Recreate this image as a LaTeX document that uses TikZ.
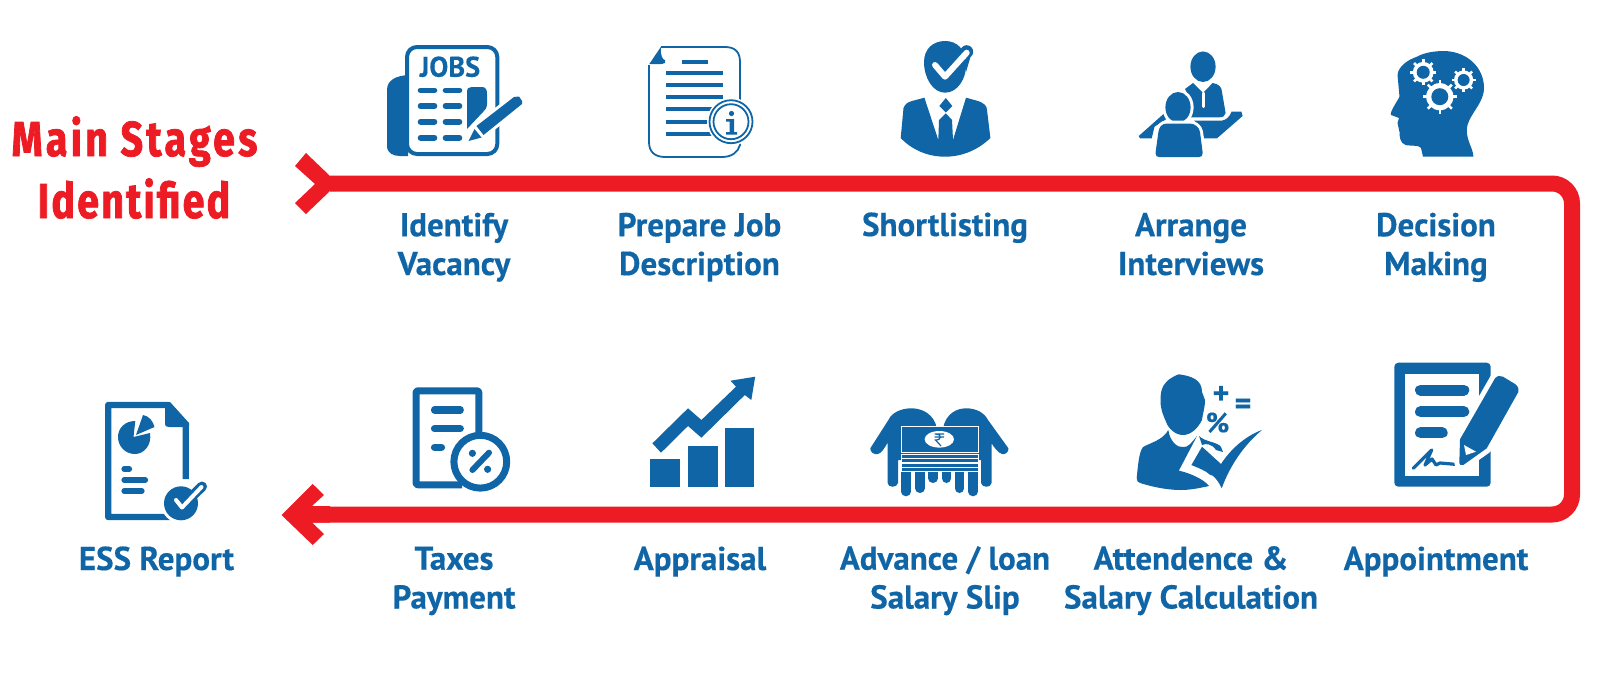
\documentclass[tikz,border=0pt]{standalone}
\usepackage{fontspec}
\setmainfont{PT Sans}[BoldFeatures={FakeBold=0.35}]
\newfontfamily\stagesfont[FakeStretch=0.8,LetterSpace=7,BoldFeatures={FakeBold=1.6}]{Fira Sans}
\usepackage{xcolor}
\definecolor{essblue}{RGB}{15,101,165}
\definecolor{essred}{RGB}{237,28,36}
\tikzset{
  stagelabel/.style={anchor=base,inner sep=0pt,align=center,text=essblue,font=\fontsize{16.5pt}{19.4pt}\selectfont\bfseries},
  titlelabel/.style={anchor=base,inner sep=0pt,text=essred,font=\fontsize{24.5pt}{30pt}\stagesfont\bfseries},
  iconfill/.style={fill=essblue,draw=none},
  iconline/.style={draw=essblue,line cap=round},
  halofill/.style={preaction={draw=white,line width=#1,line join=round},fill=essblue},
  flowline/.style={draw=essred,line width=8pt,rounded corners=10pt}
}
\newcommand{\gearicon}[3]{
\fill[white] (#1,#2) circle ({#3*0.8});
\foreach \a in {0,45,...,315} \draw[white,line width=1.3pt] ([shift={(#1,#2)}]\a:{#3*0.6}) -- ([shift={(#1,#2)}]\a:{#3});
\fill[essblue] (#1,#2) circle ({#3*0.5});
}
\begin{document}
\begin{tikzpicture}[x=0.5pt,y=-0.5pt]
\useasboundingbox (0,0) rectangle (1600,675);

% red flow line
\coordinate (flowstart) at (330,183.5);
\coordinate (flowright) at (1572,183.5);
\coordinate (flowend) at (312,514.5);
\draw[flowline] (flowstart) -- (flowright) |- (flowend);
\fill[essred] (295,166) -- (306,153) -- (330,176) -- (336,176) -- (336,191) -- (330,191) -- (306,214) -- (295,203) -- (315,184) -- cycle;
\fill[essred] (flowend) ++(-30.5,0.5) -- (312.7,484) -- (324,495) -- (312,506) -- (330,506) -- (330,522.5) -- (312,522.5) -- (324,534) -- (312.7,545) -- cycle;

% title
\node[titlelabel] (mainstages) at (134.5,156) {Main Stages};
\node[titlelabel] (identified) at (134,218) {\addfontfeature{LetterSpace=4.7}Identified};

% jobs icon
\fill[iconfill] (408,75) .. controls (396,76) and (387,80) .. (387,90) -- (387,146) .. controls (387,153) and (393,156) .. (400,156) -- (408,156) -- cycle;
\draw[draw=essblue,line width=2pt,fill=white,rounded corners=5pt] (407,47) rectangle (497.3,154);
\node[inner sep=0pt,anchor=base,text=essblue,font=\fontsize{14.2pt}{15pt}\selectfont\bfseries] (jobs) at (450,76.7) {JOBS};
\foreach \y in {90.3,106,121.7,137.7} {
  \draw[iconline,line width=2.8pt] (420.5,\y) -- (434.5,\y);
  \draw[iconline,line width=2.8pt] (445.5,\y) -- (459.5,\y);
}
\fill[iconfill] (467,92) .. controls (467,88) and (469,87) .. (472,87) -- (482,87) .. controls (486,87) and (487,90) .. (487,94) -- (487,104) .. controls (487,108) and (485,110) .. (483,112) -- (467,129) -- cycle;
\path[halofill=3pt] (514,97) -- (519,96.5) -- (522,101) -- (522,104) -- (483.5,135) -- (476.5,126) -- cycle;
\fill[iconfill] (474.5,129) -- (481.5,137.5) -- (468.5,141) -- cycle;

% job description icon
\draw[draw=essblue,line width=0.9pt] (661,47) -- (725,47) .. controls (735,47) and (740,52) .. (740,62) -- (740,145) .. controls (738,152) and (732,157) .. (722,157) -- (665,157) .. controls (655,157) and (649,152) .. (649,142) -- (649,65);
\fill[iconfill] (649.3,64) -- (661,46.7) .. controls (660,56) and (663,60) .. (665,60) .. controls (666,63) and (664,64) .. (661.7,64) -- cycle;
\draw[draw=essblue,line width=1.7pt] (682,62) -- (708,62);
\foreach \y in {73,85,97,109,122,134} \draw[draw=essblue,line width=1.7pt] (666,\y) -- (723.3,\y);
\fill[white] (731,121.7) circle (24);
\draw[draw=essblue,line width=0.9pt] (731,121.7) circle (21.5);
\draw[draw=essblue,line width=0.9pt] (731,121.7) circle (17.5);
\fill[iconfill] (731.5,113.5) circle (2.6);
\fill[iconfill] (726,119) -- (734,119) -- (734,132) -- (737,132) -- (737,134.5) -- (726,134.5) -- (726,132) -- (729.5,132) -- (729.5,121.5) -- (726,121.5) -- cycle;

% shortlisting icon
\fill[iconfill] (945,41) .. controls (957,41) and (966,49) .. (966,66) .. controls (966,78) and (958,92.7) .. (945,92.7) .. controls (933,92.7) and (924,78) .. (924,62) .. controls (924,49) and (933,41) .. (945,41) -- cycle;
\fill[iconfill] (966.7,51.7) circle (6.5);
\fill[iconfill] (964,60) -- (971,55) -- (966,72) -- cycle;
\draw[draw=white,line width=3pt,line cap=round,line join=round] (935,65) -- (945,76.7) -- (966.7,52.7);
\fill[iconfill] (900.7,138) -- (903.5,108) .. controls (905,104) and (908,102) .. (912,101) -- (924.4,97.7) -- (938.3,140) -- (939,120) -- (945.8,113.3) -- (952,120) -- (953,140) -- (966,97.7) -- (978,101) .. controls (984,103) and (987,106) .. (987,110) -- (990.4,138) .. controls (978,150) and (962,156.7) .. (945,156.7) .. controls (928,156.7) and (912,150) .. (900.7,138) -- cycle;
\fill[iconfill] (945.8,98) -- (952.3,106) -- (945.8,112.5) -- (939.3,106) -- cycle;

% interview icon
\fill[iconfill] (1203,66.7) ellipse (12.6 and 15.3);
\fill[iconfill] (1185,89) -- (1193,83) -- (1203,93) -- (1212.6,83) .. controls (1219,84) and (1221.7,87) .. (1222,92) -- (1225.6,113) .. controls (1225,116) and (1223,117.3) .. (1219.7,117.3) -- (1188,117.3) -- (1188,95) -- cycle;
\draw[draw=white,line width=1.5pt,line cap=round] (1203,93) -- (1203,106.7);
\fill[iconfill] (1164.3,113.3) -- (1138.7,136) -- (1140,138.3) -- (1151.7,138.3) -- (1154.5,126.7) -- (1166,119.3) -- cycle;
\fill[iconfill] (1231.5,111.7) -- (1241.4,111.7) -- (1242.6,116) -- (1217,138.3) -- (1204,138.3) -- (1200.7,126.7) -- (1194,120.7) -- (1221.7,120.7) .. controls (1226,120) and (1229.6,117) .. (1231.5,111.7) -- cycle;
\path[halofill=3pt] (1178,107.3) ellipse (12.6 and 15.3);
\path[halofill=3pt] (1155.5,153) -- (1158.4,132) .. controls (1159,127) and (1162,123.5) .. (1167,123.5) -- (1189,123.5) .. controls (1195,123.5) and (1199,127) .. (1200,132) -- (1202.7,153) .. controls (1203,156) and (1201,157) .. (1199,157) -- (1159,157) .. controls (1157,157) and (1155.5,156) .. (1155.5,153) -- cycle;

% decision making icon
\fill[iconfill] (1397.5,75) .. controls (1398,67) and (1407,60) .. (1417,56.7) .. controls (1425,52) and (1437,51) .. (1445,51) .. controls (1468,52) and (1484,68) .. (1484,88) .. controls (1484,104) and (1467,116) .. (1466.7,130) .. controls (1467,142) and (1473,148) .. (1473.4,156.7) -- (1423,156.7) -- (1421,148) .. controls (1420,145) and (1409,146) .. (1405.5,145) .. controls (1400,143) and (1399.5,137) .. (1399.5,132) -- (1397.5,123) -- (1399,118) -- (1391,115) .. controls (1389,113) and (1398,100) .. (1399.5,96.7) -- cycle;
\gearicon{1423.2}{72.3}{13}
\gearicon{1463.6}{80}{12}
\gearicon{1439.8}{96.7}{17}

% ess report icon
\draw[draw=essblue,line width=3.2pt,line join=round] (185.7,479) -- (185.7,425) -- (168,405) -- (108.2,405) -- (108.2,517) -- (170,517);
\fill[iconfill] (165,402) -- (170,402) -- (189,423) -- (189,427) -- (169,427) .. controls (166,427) and (165,426) .. (165,424) -- cycle;
\path[halofill=3pt] (181,503.3) circle (17);
\draw[draw=essblue,line width=5pt,line cap=round] (181,507) -- (202,486.5);
\draw[draw=white,line width=2pt,line cap=round,line join=round] (176,500) -- (182,507.5) -- (201.5,487);
\fill[iconfill] (136,435) -- (143,415) .. controls (149,416) and (153,421) .. (154.5,427) -- cycle;
\fill[iconfill] (135.3,421) -- (133.5,437) -- (150,433) .. controls (152,445) and (144,454) .. (135,454) .. controls (125,454) and (118,446) .. (118,437) .. controls (118,428) and (125,421) .. (135.3,421) -- cycle;
\draw[iconline,line width=2.6pt] (124,469) -- (129.5,469);
\draw[iconline,line width=2.6pt] (124,480) -- (145.5,480);
\draw[iconline,line width=2.6pt] (124,491) -- (142,491);

% taxes icon
\draw[draw=essblue,line width=3.5pt,line join=round,rounded corners=1pt] (478.9,435) -- (478.9,390.8) -- (416,390.8) -- (416,484.8) -- (462,484.8);
\draw[draw=essblue,line width=3.5pt,fill=white] (480.3,461.7) circle (26.4);
\foreach \y/\x in {410/463.8,428.7/463.8,447.3/445} \draw[iconline,line width=3.6pt] (434.5,\y) -- (\x-3.5,\y);
\draw[iconline,line width=3pt] (472.4,470) -- (489,452.7);
\fill[iconfill] (472.4,453.3) circle (3.6);
\fill[iconfill] (487.6,469.3) circle (3.6);

% appraisal icon
\fill[iconfill] (650.3,459.3) rectangle (679.7,487.3);
\fill[iconfill] (688,446) rectangle (717.5,487.3);
\fill[iconfill] (725.3,428.3) rectangle (754.3,487.3);
\fill[iconfill] (652.4,443.3) -- (688,408.3) -- (701.4,420) -- (736,386.7) -- (730.5,380.7) -- (755.2,376.7) -- (751.3,400) -- (744.8,395) -- (701.4,437.7) -- (688,426) -- (661,452.7) -- cycle;

% salary icon
\fill[iconfill] (870.3,448.3) -- (888.4,420) .. controls (892,412) and (902,408.3) .. (911.5,408.3) .. controls (922,408.3) and (934,414) .. (936.8,428) -- (943,428) .. controls (946,414) and (956,408.3) .. (966.3,408.3) .. controls (975,408.3) and (984,412) .. (988,420) -- (1008.4,448.3) .. controls (1009,452) and (1005,455) .. (1002,454) .. controls (998,453) and (994,447) .. (991.5,443.3) -- (991.5,483) .. controls (991,488) and (982,488) .. (981,483) -- (981,460) -- (898,460) -- (898,483) .. controls (897,488) and (888,488) .. (887.6,483) -- (887.6,442.7) .. controls (885,447) and (882,453) .. (878,454) .. controls (874,455) and (870,452) .. (870.3,448.3) -- cycle;
\foreach \x/\b in {906/494,920/490.7,933/480.7,946.5/480.7,959.5/490.7,973/494} {
  \draw[iconline,line width=4.6pt] (\x,472.7) -- (\x,\b-2.3);
}
\filldraw[essblue,draw=white,line width=0.5pt] (901,426.7) rectangle (978,452.7);
\foreach \y in {454,458.5,463,467.5} \filldraw[essblue,draw=white,line width=0.4pt] (901,\y) rectangle (978,\y+4.2);
\fill[white] (939.3,439.3) ellipse (14.7 and 8.3);
\draw[draw=essblue,line width=0.6pt] (934.5,434) -- (944,434) (934.5,437) -- (944,437) (936,434) .. controls (942,434) and (942,440) .. (935.5,440) -- (941,446);

% attendence icon
\fill[iconfill] (1178.8,374.3) .. controls (1192,376) and (1202,380) .. (1202,392) -- (1205,400) .. controls (1205,408) and (1203,412) .. (1202,420) .. controls (1198,428) and (1191,435) .. (1183,435) .. controls (1175,435) and (1168,428) .. (1166,421.7) .. controls (1163,415) and (1160,408) .. (1160.7,400) .. controls (1160,390) and (1163,380) .. (1178.8,374.3) -- cycle;
\fill[iconfill] (1168.3,430) .. controls (1170,442) and (1178,448) .. (1183,447) .. controls (1188,448) and (1192,442) .. (1197,436) -- (1178.8,470.7) .. controls (1186,472) and (1203,478) .. (1209,486) .. controls (1200,488) and (1190,490) .. (1181,490) .. controls (1165,490) and (1150,486) .. (1141,483.3) .. controls (1137,482) and (1136.7,480) .. (1136.7,478) .. controls (1138,465) and (1139,452) .. (1143,447) .. controls (1150,443) and (1163,440) .. (1168.3,430) -- cycle;
\fill[iconfill] (1199,436) .. controls (1205,442) and (1218,442) .. (1221,447) -- (1223,452) -- (1216,450) .. controls (1212,444) and (1206,443) .. (1202,445) -- cycle;
\fill[iconfill] (1202,446.7) -- (1221,464) .. controls (1230,450) and (1245,436) .. (1262,430) .. controls (1245,444) and (1230,465) .. (1221.7,488.3) .. controls (1218,480) and (1212,474) .. (1210.4,475) .. controls (1205,470) and (1198,468) .. (1191.4,465) -- cycle;
\node[inner sep=0pt,anchor=center,text=essblue,font=\fontsize{16pt}{16pt}\selectfont\bfseries] (plussign) at (1221,395) {+};
\node[inner sep=0pt,anchor=center,text=essblue,font=\fontsize{16pt}{16pt}\selectfont\bfseries] (equalsign) at (1243,406.5) {=};
\node[inner sep=0pt,anchor=center,text=essblue,font=\fontsize{14pt}{14pt}\selectfont\bfseries] (percentsign) at (1217.5,422.7) {\%};

% appointment icon
\fill[iconfill,rounded corners=2pt] (1394.3,362.7) rectangle (1490.7,486.7);
\fill[white] (1405,374) rectangle (1479.3,475.7);
\foreach \y/\x in {390/1469.3,411.7/1469.3,432.7/1447.7} \draw[iconline,line width=5.5pt] (1420.5,\y) -- (\x-5.5,\y);
\draw[iconline,line width=1.6pt,line join=round] (1413.3,468.3) -- (1431.7,450) -- (1425,465) -- (1432,459) -- (1436,465) -- (1440,463) -- (1455,464.3);
\path[halofill=5pt] (1460,439.3) -- (1495,378.3) .. controls (1498,375) and (1500,376) .. (1503,376.7) -- (1515,384) .. controls (1519,387) and (1519,390) .. (1518.3,392) -- (1486.7,448.3) -- (1463.3,465) .. controls (1461,465.5) and (1459.3,465) .. (1459.3,463) -- cycle;
\fill[white] (1464,445) -- (1476,451.7) -- (1466,455) -- cycle;

% stage labels
\node[stagelabel] (vacancy) at (454,275) {Identify\\Vacancy};
\node[stagelabel] (jobdesc) at (699.5,275) {Prepare Job\\Description};
\node[stagelabel] (shortlist) at (945,236) {Shortlisting};
\node[stagelabel] (interviews) at (1191,275) {Arrange\\Interviews};
\node[stagelabel] (decision) at (1436,275) {Decision\\Making};
\node[stagelabel] (essreport) at (156.5,570) {ESS Report};
\node[stagelabel] (taxes) at (454,608.5) {Taxes\\Payment};
\node[stagelabel] (appraisal) at (700,570) {Appraisal};
\node[stagelabel] (advance) at (945,608.5) {Advance / loan\\Salary Slip};
\node[stagelabel] (attendence) at (1191,608.5) {Attendence \&\\Salary Calculation};
\node[stagelabel] (appointment) at (1436,570) {Appointment};
\end{tikzpicture}
\end{document}
